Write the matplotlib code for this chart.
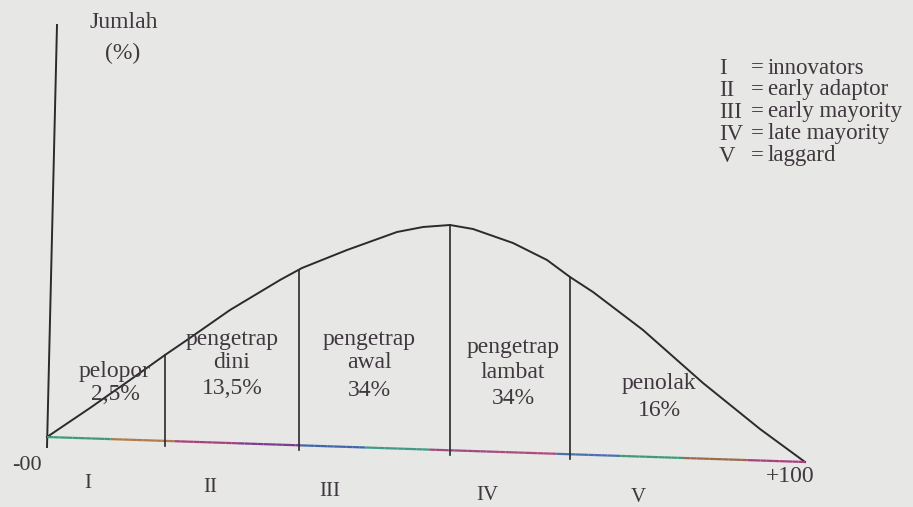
import matplotlib.pyplot as plt
import numpy as np
from matplotlib.collections import LineCollection

# curve (pixel coords, y grows downward)
curve_x = [47, 90, 130, 165, 187, 230, 280, 302, 347, 397, 423, 450, 473, 513,
           547, 570, 593, 643, 703, 760, 805]
curve_y = [437, 408, 380, 355, 340, 310, 280, 268, 250, 232, 227, 225, 229, 243,
           260, 277, 292, 330, 383, 429, 462]

# baseline ends
base_x = [47, 805]
base_y = [437, 462]

# dividers between adopter groups
divider_x = [165, 299, 450, 570]

group_labels = [["pelopor", "2,5%"], ["pengetrap", "dini", "13,5%"],
                ["pengetrap", "awal", "34%"], ["pengetrap", "lambat", "34%"],
                ["penolak", "16%"]]
roman = ["I", "II", "III", "IV", "V"]
legend_keys = ["I", "II", "III", "IV", "V"]
legend_names = ["innovators", "early adaptor", "early mayority", "late mayority", "laggard"]

ink = "#2b2a2c"
txt = "#40383f"
serif = "Liberation Serif"

fig = plt.figure(figsize=(9.13, 5.07), dpi=100)
fig.patch.set_facecolor("#e7e7e5")
ax = fig.add_axes([0, 0, 1, 1])
ax.set_facecolor("#e7e7e5")
ax.set_xlim(0, 913)
ax.set_ylim(507, 0)
ax.axis("off")

# y axis
ax.plot([57, 47], [25, 447], color=ink, lw=1.4)

# curve
ax.plot(curve_x, curve_y, color=ink, lw=1.4, solid_joinstyle="round")

# baseline, scan fringes give it a colour shimmer
bx = np.linspace(base_x[0], base_x[1], 120)
by = np.interp(bx, base_x, base_y)
pts = np.column_stack([bx, by]).reshape(-1, 1, 2)
segs = np.concatenate([pts[:-1], pts[1:]], axis=1)
cols = ["#3e9a7a", "#b07a4a", "#a8407e", "#7a3c8e", "#3f66ad", "#3f9a86",
        "#9c4a80", "#b04a7c", "#4a70b0", "#3f9a7a", "#9a6a4a", "#a8407e"]
seg_cols = [cols[int(i / len(segs) * len(cols)) % len(cols)] for i in range(len(segs))]
ax.add_collection(LineCollection(segs, colors=seg_cols, linewidths=1.6))

# dividers
for dx in divider_x:
    top = np.interp(dx, curve_x, curve_y)
    bot = np.interp(dx, base_x, base_y) + 5
    ax.plot([dx, dx], [top, bot], color=ink, lw=1.2)

# group labels, one text per line
label_x = [115, 232, 369, 513, 659]
label_y = [[372, 395], [339, 363, 389], [340, 362, 391], [347, 372, 398], [383, 411]]
for lx, ys, lines in zip(label_x, label_y, group_labels):
    for ly, s in zip(ys, lines):
        ax.text(lx, ly, s, ha="center", va="center", fontsize=17, family=serif,
                color=txt)

# roman numerals under the baseline
roman_pos = [(88, 483), (210, 487), (330, 492), (487, 495), (638, 497)]
for (rx, ry), s in zip(roman_pos, roman):
    ax.text(rx, ry, s, ha="center", va="center", fontsize=15, family=serif, color=txt)

ax.text(27, 465, "-00", ha="center", va="center", fontsize=16, family=serif, color=txt)
ax.text(790, 477, "+100", ha="center", va="center", fontsize=17, family=serif, color=txt)

# axis title
ax.text(124, 23, "Jumlah", ha="center", va="center", fontsize=17, family=serif, color=txt)
ax.text(123, 53, "(%)", ha="center", va="center", fontsize=17, family=serif, color=txt)

# key
for i, (k, s) in enumerate(zip(legend_keys, legend_names)):
    y = 68 + i * 22
    ax.text(719, y, k, ha="left", va="center", fontsize=16.5, family=serif, color=txt)
    ax.text(757, y, "=", ha="center", va="center", fontsize=16.5, family=serif, color=txt)
    ax.text(768, y, s, ha="left", va="center", fontsize=16.5, family=serif, color=txt)

fig.savefig("out.png", dpi=100, facecolor=fig.get_facecolor())
